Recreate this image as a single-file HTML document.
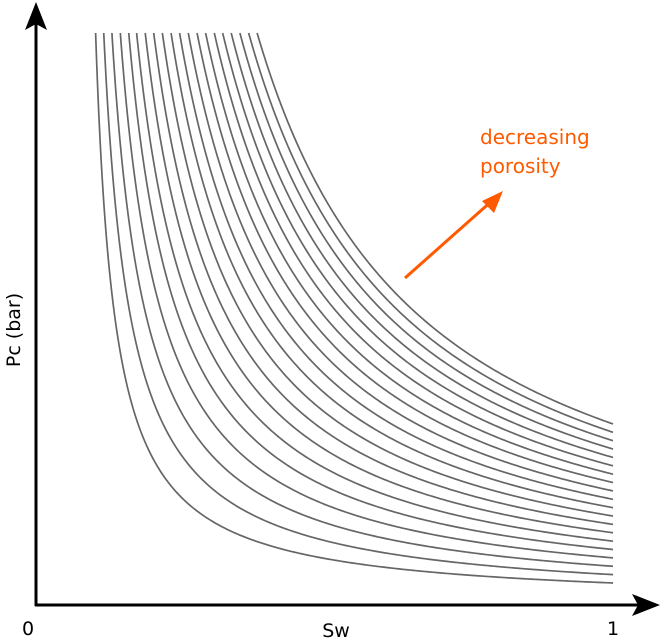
<!DOCTYPE html>
<html><head><meta charset="utf-8"><style>
html,body{margin:0;padding:0;background:#fff;}
svg{display:block;font-family:"DejaVu Sans","Liberation Sans",sans-serif;}
</style></head><body>
<svg id="chart" width="661" height="640" viewBox="0 0 661 640">
<g id="curves"></g>
<line x1="36" y1="606" x2="36" y2="22" stroke="#000" stroke-width="3"/>
<polygon points="36,2 25,30 36,24 47,30" fill="#000"/>
<line x1="35" y1="605" x2="640" y2="605" stroke="#000" stroke-width="3"/>
<polygon points="660,605 632,594 638,605 632,616" fill="#000"/>
<text x="28" y="635" font-size="19" text-anchor="middle">0</text>
<text x="613" y="635" font-size="19" text-anchor="middle">1</text>
<text x="336" y="637" font-size="19" text-anchor="middle">Sw</text>
<text x="0" y="0" font-size="19" text-anchor="middle" transform="translate(20,330) rotate(-90)">Pc (bar)</text>
<text x="480" y="144" font-size="20" fill="#ff5a00">decreasing</text>
<text x="480" y="173" font-size="20" fill="#ff5a00">porosity</text>
<line x1="405" y1="278" x2="494" y2="199" stroke="#ff5a00" stroke-width="3"/>
<polygon points="503,191 482,201 494,213" fill="#ff5a00"/>
</svg>
<script>
// Brooks-Corey style parameters per curve: Pc = pd * ((Sw - swi)/(1 - swi))^(-nExp)
const swi = [0.071,0.072,0.073,0.074,0.075,0.075,0.076,0.077,0.078,0.079,0.080,0.081,0.082,0.083,0.084,0.084,0.085,0.086,0.087,0.088];
const nExp = [0.970,0.973,0.975,0.978,0.981,0.983,0.986,0.988,0.991,0.994,0.996,0.999,1.002,1.004,1.007,1.010,1.012,1.015,1.018,1.020];
const pd = [3.85,5.31,6.77,8.24,9.70,11.16,12.63,14.09,15.55,17.02,18.48,19.94,21.41,22.87,24.33,25.80,27.26,28.72,30.19,31.65];
const pcTop = 100;
const sx = v => 36 + v * 577;
const sy = v => 605 - v * 5.72;

const g = document.getElementById('curves');
for (let i = 0; i < swi.length; i++) {
  const s0 = swi[i] + (1 - swi[i]) * Math.pow(pd[i] / pcTop, 1 / nExp[i]);
  let d = '';
  const n = 240;
  for (let k = 0; k <= n; k++) {
    const t = k / n;
    const sw = s0 + (1 - s0) * Math.pow(t, 1.8);
    let pc = pd[i] * Math.pow((sw - swi[i]) / (1 - swi[i]), -nExp[i]);
    if (pc > pcTop) pc = pcTop;
    d += (k ? 'L' : 'M') + sx(sw).toFixed(2) + ',' + sy(pc).toFixed(2);
  }
  const path = document.createElementNS('http://www.w3.org/2000/svg', 'path');
  path.setAttribute('d', d);
  path.setAttribute('fill', 'none');
  path.setAttribute('stroke', '#666');
  path.setAttribute('stroke-width', '1.7');
  
  
  g.appendChild(path);
}
</script>
</body></html>
